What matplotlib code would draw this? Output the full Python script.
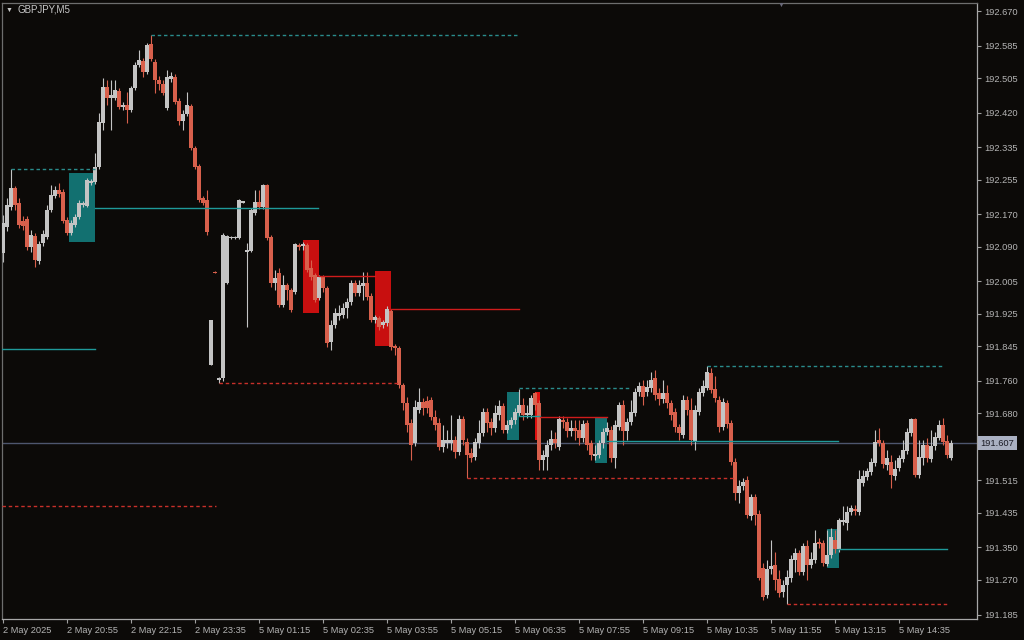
import numpy as np
import matplotlib
matplotlib.use("Agg")
import matplotlib.pyplot as plt
from matplotlib.patches import Rectangle

plt.rcParams['font.family'] = ['Liberation Sans', 'DejaVu Sans']

# GBPJPY M5 bars
opens = [
    192.075, 192.139, 192.188, 192.235, 192.198, 192.153, 192.158, 192.089, 192.116, 192.055,
    192.099, 192.114, 192.180, 192.215, 192.230, 192.225, 192.156, 192.124, 192.143, 192.163,
    192.193, 192.190, 192.247, 192.249, 192.286, 192.394, 192.483, 192.456, 192.456, 192.473,
    192.434, 192.439, 192.426, 192.480, 192.537, 192.547, 192.520, 192.589, 192.544, 192.500,
    192.490, 192.431, 192.503, 192.508, 192.449, 192.399, 192.417, 192.436, 192.333, 192.289,
    192.210, 192.205, 191.799, 192.028, 191.762, 191.767, 192.001, 192.111, 192.112, 192.111,
    192.198, 192.077, 192.080, 192.173, 192.200, 192.188, 192.242, 192.114, 192.001, 192.025,
    191.947, 191.996, 191.984, 191.979, 192.094, 192.092, 192.094, 192.038, 192.020, 191.964,
    192.016, 191.988, 191.856, 191.898, 191.920, 191.922, 191.939, 191.954, 192.001, 191.976,
    191.993, 192.001, 191.969, 191.910, 191.915, 191.898, 191.902, 191.932, 191.846, 191.841,
    191.750, 191.706, 191.656, 191.607, 191.688, 191.708, 191.710, 191.713, 191.671, 191.656,
    191.597, 191.607, 191.607, 191.615, 191.585, 191.666, 191.610, 191.583, 191.573, 191.607,
    191.632, 191.683, 191.659, 191.644, 191.676, 191.698, 191.639, 191.651, 191.664, 191.681,
    191.701, 191.676, 191.676, 191.730, 191.706, 191.565, 191.573, 191.602, 191.617, 191.597,
    191.664, 191.659, 191.637, 191.644, 191.639, 191.619, 191.656, 191.607, 191.575, 191.578,
    191.607, 191.634, 191.639, 191.570, 191.647, 191.701, 191.637, 191.659, 191.681, 191.733,
    191.747, 191.733, 191.743, 191.767, 191.730, 191.715, 191.730, 191.706, 191.683, 191.647,
    191.627, 191.713, 191.688, 191.610, 191.683, 191.730, 191.743, 191.779, 191.740, 191.713,
    191.647, 191.706, 191.656, 191.560, 191.484, 191.501, 191.516, 191.428, 191.474, 191.433,
    191.300, 191.233, 191.297, 191.307, 191.273, 191.241, 191.258, 191.275, 191.319, 191.337,
    191.290, 191.354, 191.307, 191.319, 191.364, 191.361, 191.310, 191.332, 191.369, 191.346,
    191.413, 191.410, 191.437, 191.445, 191.437, 191.509, 191.524, 191.536, 191.558, 191.615,
    191.607, 191.553, 191.560, 191.526, 191.546, 191.568, 191.587, 191.632, 191.666, 191.528,
    191.570, 191.602, 191.568, 191.600, 191.619, 191.651, 191.612, 191.570,
]
highs = [
    192.168, 192.210, 192.281, 192.239, 192.210, 192.166, 192.166, 192.131, 192.124, 192.104,
    192.131, 192.193, 192.242, 192.239, 192.247, 192.232, 192.163, 192.156, 192.171, 192.205,
    192.202, 192.259, 192.257, 192.321, 192.419, 192.505, 192.500, 192.500, 192.500, 192.480,
    192.446, 192.471, 192.485, 192.544, 192.574, 192.554, 192.591, 192.611, 192.552, 192.510,
    192.500, 192.525, 192.520, 192.515, 192.456, 192.426, 192.471, 192.441, 192.338, 192.294,
    192.215, 192.230, 191.910, 192.030, 191.770, 192.124, 192.119, 192.116, 192.116, 192.207,
    192.203, 192.099, 192.185, 192.230, 192.230, 192.244, 192.244, 192.119, 192.033, 192.038,
    192.020, 192.001, 191.988, 192.099, 192.099, 192.102, 192.099, 192.057, 192.025, 192.020,
    192.020, 191.993, 191.910, 191.939, 191.947, 191.952, 191.964, 192.008, 192.008, 192.008,
    192.028, 192.028, 191.976, 191.922, 191.920, 191.910, 191.944, 191.937, 191.851, 191.846,
    191.755, 191.720, 191.666, 191.713, 191.743, 191.718, 191.723, 191.720, 191.688, 191.669,
    191.651, 191.639, 191.676, 191.624, 191.676, 191.674, 191.619, 191.595, 191.619, 191.664,
    191.693, 191.693, 191.669, 191.701, 191.713, 191.706, 191.664, 191.671, 191.693, 191.740,
    191.718, 191.701, 191.725, 191.733, 191.713, 191.590, 191.615, 191.639, 191.634, 191.674,
    191.674, 191.669, 191.664, 191.664, 191.664, 191.664, 191.664, 191.615, 191.602, 191.615,
    191.644, 191.659, 191.649, 191.664, 191.708, 191.713, 191.669, 191.713, 191.743, 191.757,
    191.762, 191.762, 191.782, 191.787, 191.743, 191.762, 191.750, 191.713, 191.693, 191.654,
    191.725, 191.723, 191.718, 191.701, 191.743, 191.762, 191.797, 191.792, 191.772, 191.723,
    191.718, 191.713, 191.664, 191.570, 191.516, 191.521, 191.526, 191.482, 191.482, 191.442,
    191.312, 191.319, 191.369, 191.339, 191.295, 191.270, 191.295, 191.332, 191.349, 191.344,
    191.361, 191.369, 191.339, 191.393, 191.373, 191.369, 191.393, 191.398, 191.393, 191.423,
    191.452, 191.452, 191.455, 191.455, 191.541, 191.541, 191.546, 191.570, 191.639, 191.644,
    191.615, 191.590, 191.578, 191.565, 191.578, 191.615, 191.644, 191.669, 191.669, 191.615,
    191.615, 191.619, 191.639, 191.634, 191.664, 191.669, 191.627, 191.615,
]
lows = [
    192.052, 192.129, 192.180, 192.180, 192.136, 192.131, 192.082, 192.077, 192.040, 192.048,
    192.092, 192.109, 192.175, 192.210, 192.212, 192.148, 192.119, 192.119, 192.139, 192.158,
    192.188, 192.188, 192.242, 192.244, 192.281, 192.377, 192.439, 192.377, 192.451, 192.429,
    192.426, 192.394, 192.421, 192.476, 192.532, 192.508, 192.515, 192.547, 192.468, 192.476,
    192.463, 192.426, 192.495, 192.441, 192.390, 192.377, 192.412, 192.328, 192.281, 192.200,
    192.193, 192.119, 191.799, 192.025, 191.755, 191.760, 191.998, 192.110, 192.110, 192.109,
    192.197, 191.893, 192.077, 192.168, 192.183, 192.183, 192.107, 191.991, 191.984, 191.942,
    191.942, 191.959, 191.929, 191.974, 192.082, 192.082, 192.028, 192.008, 191.954, 191.959,
    191.979, 191.843, 191.836, 191.890, 191.910, 191.915, 191.915, 191.947, 191.969, 191.969,
    191.959, 191.959, 191.905, 191.902, 191.885, 191.890, 191.895, 191.836, 191.824, 191.743,
    191.688, 191.634, 191.565, 191.600, 191.681, 191.676, 191.681, 191.664, 191.639, 191.590,
    191.585, 191.595, 191.590, 191.570, 191.578, 191.602, 191.521, 191.560, 191.565, 191.595,
    191.624, 191.634, 191.627, 191.634, 191.664, 191.632, 191.632, 191.644, 191.654, 191.674,
    191.664, 191.669, 191.669, 191.688, 191.541, 191.541, 191.541, 191.590, 191.595, 191.590,
    191.644, 191.622, 191.624, 191.615, 191.602, 191.610, 191.590, 191.565, 191.565, 191.570,
    191.595, 191.627, 191.560, 191.546, 191.639, 191.602, 191.615, 191.651, 191.674, 191.723,
    191.701, 191.723, 191.733, 191.713, 191.701, 191.706, 191.693, 191.664, 191.634, 191.615,
    191.619, 191.676, 191.602, 191.590, 191.676, 191.723, 191.738, 191.730, 191.708, 191.634,
    191.639, 191.644, 191.553, 191.467, 191.460, 191.492, 191.423, 191.418, 191.405, 191.270,
    191.221, 191.226, 191.285, 191.246, 191.228, 191.228, 191.211, 191.265, 191.290, 191.282,
    191.282, 191.270, 191.300, 191.312, 191.349, 191.305, 191.305, 191.324, 191.337, 191.339,
    191.405, 191.393, 191.430, 191.430, 191.430, 191.501, 191.516, 191.528, 191.551, 191.600,
    191.546, 191.541, 191.496, 191.516, 191.538, 191.560, 191.580, 191.624, 191.524, 191.521,
    191.553, 191.560, 191.560, 191.590, 191.615, 191.602, 191.570, 191.565,
]
closes = [
    192.148, 192.193, 192.235, 192.193, 192.143, 192.141, 192.089, 192.119, 192.057, 192.097,
    192.121, 192.180, 192.217, 192.230, 192.220, 192.153, 192.124, 192.148, 192.163, 192.198,
    192.198, 192.254, 192.252, 192.286, 192.397, 192.483, 192.456, 192.463, 192.476, 192.434,
    192.439, 192.426, 192.480, 192.537, 192.549, 192.520, 192.586, 192.552, 192.500, 192.490,
    192.468, 192.508, 192.510, 192.446, 192.399, 192.417, 192.439, 192.333, 192.286, 192.205,
    192.198, 192.126, 191.910, 192.026, 191.767, 192.119, 192.116, 192.114, 192.114, 192.205,
    192.202, 192.082, 192.180, 192.200, 192.188, 192.242, 192.111, 192.001, 192.013, 191.947,
    191.996, 191.984, 191.934, 192.097, 192.089, 192.097, 192.033, 192.016, 191.959, 192.016,
    191.988, 191.853, 191.898, 191.927, 191.927, 191.939, 191.954, 192.001, 191.976, 191.996,
    192.001, 191.966, 191.910, 191.917, 191.893, 191.905, 191.937, 191.843, 191.841, 191.750,
    191.706, 191.651, 191.602, 191.696, 191.708, 191.693, 191.693, 191.671, 191.651, 191.597,
    191.615, 191.615, 191.615, 191.585, 191.666, 191.615, 191.578, 191.570, 191.610, 191.632,
    191.683, 191.656, 191.644, 191.681, 191.698, 191.639, 191.651, 191.664, 191.683, 191.701,
    191.676, 191.681, 191.718, 191.701, 191.565, 191.578, 191.602, 191.617, 191.607, 191.666,
    191.659, 191.637, 191.644, 191.637, 191.619, 191.654, 191.602, 191.578, 191.580, 191.607,
    191.634, 191.644, 191.570, 191.651, 191.701, 191.637, 191.659, 191.683, 191.733, 191.747,
    191.720, 191.745, 191.762, 191.725, 191.715, 191.730, 191.706, 191.676, 191.647, 191.632,
    191.713, 191.688, 191.615, 191.688, 191.733, 191.747, 191.782, 191.738, 191.718, 191.647,
    191.708, 191.654, 191.560, 191.484, 191.501, 191.511, 191.430, 191.474, 191.430, 191.275,
    191.228, 191.297, 191.305, 191.270, 191.238, 191.258, 191.278, 191.322, 191.337, 191.290,
    191.354, 191.307, 191.322, 191.361, 191.359, 191.312, 191.332, 191.376, 191.346, 191.418,
    191.418, 191.437, 191.447, 191.440, 191.519, 191.526, 191.538, 191.560, 191.610, 191.607,
    191.556, 191.570, 191.528, 191.543, 191.570, 191.590, 191.634, 191.666, 191.528, 191.573,
    191.602, 191.570, 191.600, 191.622, 191.651, 191.610, 191.578, 191.607,
]

# zones: (bar_from, bar_to, low, high, colour)
zones = [
    (16.6, 23.0, 192.102, 192.271, '#127070'),
    (75.0, 79.0, 191.927, 192.107, '#c80f0f'),
    (93.0, 97.0, 191.846, 192.030, '#c80f0f'),
    (126.0, 129.0, 191.615, 191.733, '#127070'),
    (133.0, 134.25, 191.615, 191.733, '#e01010'),
    (148.0, 151.0, 191.558, 191.669, '#127070'),
    (206.0, 209.0, 191.300, 191.396, '#127070'),
]

# levels: (bar_from, bar_to, price, colour, dashed)
levels = [
    (23.0, 78.75, 192.185, '#1f9a9a', False),
    (-0.25, 23.0, 191.838, '#1f9a9a', False),
    (2.0, 23.0, 192.281, '#2a8c8c', True),
    (37.0, 129.0, 192.611, '#2a8c8c', True),
    (54.0, 98.75, 191.755, '#c8302a', True),
    (-0.25, 53.25, 191.452, '#c8302a', True),
    (79.0, 93.0, 192.018, '#d01c1c', False),
    (97.0, 129.0, 191.937, '#d01c1c', False),
    (129.0, 156.75, 191.743, '#2a8c8c', True),
    (129.0, 134.25, 191.674, '#1f9a9a', False),
    (134.25, 151.0, 191.671, '#d01c1c', False),
    (151.0, 208.75, 191.612, '#1f9a9a', False),
    (176.0, 235.0, 191.797, '#2a8c8c', True),
    (116.0, 182.5, 191.521, '#c8302a', True),
    (209.0, 236.0, 191.347, '#1f9a9a', False),
    (196.0, 236.0, 191.211, '#c8302a', True),
]

last_price = 191.607
price_ticks = [192.670, 192.585, 192.505, 192.420, 192.335, 192.255, 192.170, 192.090,
               192.005, 191.925, 191.845, 191.760, 191.680, 191.595, 191.515, 191.435,
               191.350, 191.270, 191.185]
time_ticks = list(range(0, 225, 16))
time_labels = ['2 May 2025', '2 May 20:55', '2 May 22:15', '2 May 23:35', '5 May 01:15',
               '5 May 02:35', '5 May 03:55', '5 May 05:15', '5 May 06:35', '5 May 07:55',
               '5 May 09:15', '5 May 10:35', '5 May 11:55', '5 May 13:15', '5 May 14:35']

bg = '#0c0a08'
bull = '#c4c4c4'
bear = '#d8604c'
txt = '#b4b4b4'

o = np.array(opens)
h = np.array(highs)
l = np.array(lows)
c = np.array(closes)
x = np.arange(len(o))

fig = plt.figure(figsize=(10.24, 6.4), dpi=100, facecolor=bg)
ax = fig.add_axes([2 / 1024, 21 / 640, 975 / 1024, 616 / 640], facecolor=bg)

for x0, x1, lo, hi, col in zones:
    ax.add_patch(Rectangle((x0, lo), x1 - x0, hi - lo, facecolor=col, edgecolor='none', zorder=1))

cols = np.where(c >= o, bull, bear)
ax.vlines(x, l, h, colors=cols, lw=0.8, zorder=2)
body_lo = np.minimum(o, c)
body_h = np.maximum(np.abs(c - o), 0.0025)
ax.bar(x, body_h, bottom=body_lo, width=0.78, color=cols, linewidth=0, zorder=3)

for x0, x1, p, col, dashed in levels:
    ls = (0, (2.5, 2)) if dashed else '-'
    ax.plot([x0, x1], [p, p], color=col, lw=1.0, ls=ls, zorder=4)

ax.axhline(last_price, color='#4e566e', lw=1.0, zorder=1.5)

ax.set_xlim(-0.25, 243.5)
ax.set_ylim(191.174, 192.690)

ax.yaxis.tick_right()
ax.set_yticks(price_ticks)
# the 191.595 label sits behind the last-price box, as in the terminal
ax.set_yticklabels(['' if v == 191.595 else f'{v:.3f}' for v in price_ticks])
ax.set_xticks(time_ticks)
ax.set_xticklabels(time_labels, ha='left')
ax.tick_params(axis='both', colors='#a0a0a0', labelcolor=txt, labelsize=6.7,
               length=3, width=0.8, direction='out')
ax.tick_params(axis='y', pad=2)
ax.tick_params(axis='x', pad=2)

for side in ['left', 'top']:
    ax.spines[side].set_color('#6e6e6e')
for side in ['right', 'bottom']:
    ax.spines[side].set_color('#a8a8a8')
for sp in ax.spines.values():
    sp.set_linewidth(0.9)

ax.annotate(f'{last_price:.3f}', xy=(1, last_price), xycoords=('axes fraction', 'data'),
            xytext=(2.5, 0), textcoords='offset points', ha='left', va='center',
            fontsize=6.7, color='#1a1a24', zorder=10, annotation_clip=False,
            bbox=dict(boxstyle='square,pad=0.25', fc='#aab0c2', ec='none'))

fig.text(6 / 1024, 1 - 10 / 640, '▼', fontsize=5, color='#c8c8c8', va='center', ha='left')
fig.text(17 / 1024, 1 - 10 / 640, 'GBPJPY,M5', fontsize=7, color='#c8c8c8',
         va='center', ha='left')
fig.text(781 / 1024, 1 - 2 / 640, '▼', fontsize=5, color='#6a6a7a', va='top', ha='center')

fig.savefig('out.png', dpi=100, facecolor=bg)
